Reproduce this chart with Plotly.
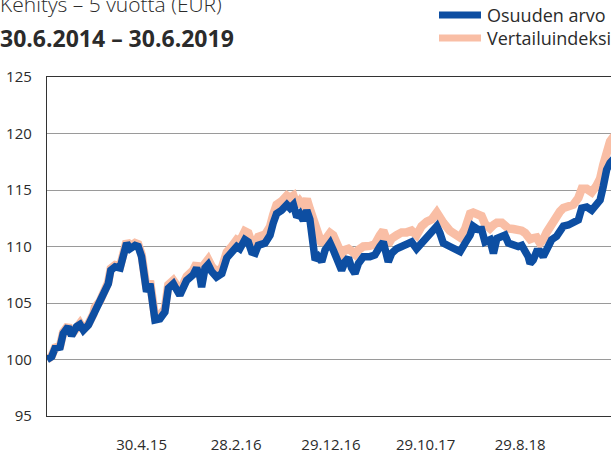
import plotly.graph_objects as go

dates = [
    "2014-06-30", "2014-07-15", "2014-07-26", "2014-08-11", "2014-08-21", "2014-09-06",
    "2014-09-17", "2014-10-03", "2014-10-14", "2014-10-25", "2014-11-10", "2014-11-26",
    "2014-12-01", "2014-12-17", "2015-01-02", "2015-01-13", "2015-01-21", "2015-02-04",
    "2015-02-20", "2015-03-02", "2015-03-13", "2015-03-24", "2015-04-09", "2015-04-19",
    "2015-04-30", "2015-05-11", "2015-05-16", "2015-05-27", "2015-06-07", "2015-06-12",
    "2015-06-28", "2015-07-14", "2015-07-25", "2015-08-10", "2015-08-15", "2015-08-31",
    "2015-09-22", "2015-10-13", "2015-10-24", "2015-11-04", "2015-11-09", "2015-11-20",
    "2015-11-30", "2015-12-11", "2015-12-27", "2016-01-13", "2016-01-29", "2016-02-14",
    "2016-03-01", "2016-03-11", "2016-03-27", "2016-04-07", "2016-04-18", "2016-04-29",
    "2016-05-09", "2016-05-31", "2016-06-16", "2016-06-26", "2016-07-07", "2016-07-23",
    "2016-08-09", "2016-08-19", "2016-08-30", "2016-09-10", "2016-09-20", "2016-10-01",
    "2016-10-12", "2016-10-22", "2016-11-02", "2016-11-08", "2016-11-18", "2016-11-29",
    "2016-12-10", "2016-12-26", "2017-01-05", "2017-01-21", "2017-02-01", "2017-02-12",
    "2017-02-23", "2017-03-05", "2017-03-16", "2017-03-27", "2017-04-12", "2017-05-03",
    "2017-05-19", "2017-06-04", "2017-06-15", "2017-07-01", "2017-07-12", "2017-07-28",
    "2017-08-13", "2017-08-29", "2017-09-14", "2017-09-30", "2017-10-16", "2017-11-02",
    "2017-11-18", "2017-12-04", "2017-12-14", "2017-12-25", "2018-01-15", "2018-02-06",
    "2018-02-17", "2018-03-05", "2018-03-21", "2018-03-31", "2018-04-16", "2018-04-27",
    "2018-05-08", "2018-05-24", "2018-06-04", "2018-06-15", "2018-07-01", "2018-07-11",
    "2018-07-22", "2018-08-07", "2018-08-23", "2018-09-03", "2018-09-14", "2018-09-24",
    "2018-09-30", "2018-10-10", "2018-10-21", "2018-11-01", "2018-11-11", "2018-11-22",
    "2018-12-08", "2018-12-24", "2019-01-04", "2019-01-15", "2019-01-31", "2019-02-16",
    "2019-03-04", "2019-03-15", "2019-03-31", "2019-04-16", "2019-05-02", "2019-05-13",
    "2019-05-23", "2019-06-03", "2019-06-14", "2019-06-30",
]

osuuden_arvo = [
    100.0, 100.25, 101.0, 101.1, 102.3, 102.9,
    102.1, 102.9, 103.1, 102.6, 103.05, 103.9,
    104.5, 105.0, 105.9, 106.7, 107.9, 108.2,
    108.1, 109.1, 110.3, 109.8, 110.1, 110.0,
    109.1, 107.0, 106.0, 106.7, 104.4, 103.5,
    103.6, 104.2, 106.3, 106.7, 106.45, 105.7,
    107.0, 107.5, 108.1, 107.3, 106.4, 108.1,
    108.4, 107.8, 107.3, 107.6, 109.0, 109.4,
    110.0, 109.8, 110.6, 110.4, 109.5, 109.4,
    110.1, 110.3, 111.0, 112.05, 112.9, 113.2,
    113.7, 113.4, 113.7, 112.6, 112.9, 112.3,
    113.2, 112.4, 110.6, 108.8, 109.1, 108.65,
    109.7, 110.3, 109.7, 108.65, 107.9, 108.65,
    109.0, 108.1, 107.6, 108.5, 109.1, 109.1,
    109.25, 110.0, 110.4, 108.65, 109.4, 109.8,
    110.0, 110.3, 110.4, 109.8, 110.3, 110.9,
    111.2, 111.8, 111.2, 110.3, 110.0, 109.7,
    109.55, 110.3, 111.0, 111.8, 111.5, 111.5,
    110.4, 110.6, 109.4, 110.7, 110.9, 111.0,
    110.3, 110.1, 110.0, 110.1, 109.7, 109.1,
    108.5, 108.8, 109.55, 109.55, 109.1, 109.8,
    110.6, 110.9, 111.3, 111.8, 111.9, 112.2,
    112.35, 113.4, 113.5, 113.2, 113.7, 114.1,
    115.3, 116.8, 117.4, 117.9,
]

vertailuindeksi = [
    100.0, 100.3, 101.05, 101.2, 102.4, 103.0,
    102.2, 103.0, 103.2, 102.7, 103.15, 104.0,
    104.6, 105.15, 106.05, 106.85, 108.05, 108.35,
    108.25, 109.25, 110.45, 110.0, 110.3, 110.2,
    109.3, 107.2, 106.25, 106.95, 104.7, 103.8,
    103.9, 104.5, 106.6, 107.0, 106.8, 106.0,
    107.35, 107.9, 108.5, 107.7, 106.9, 108.5,
    108.85, 108.25, 107.75, 108.1, 109.5, 110.0,
    110.6, 110.45, 111.35, 111.2, 110.3, 110.2,
    110.85, 111.05, 111.75, 112.8, 113.7, 114.0,
    114.5, 114.3, 114.5, 113.6, 114.0, 113.6,
    114.2, 113.3, 112.3, 111.9, 110.9, 110.2,
    110.6, 111.2, 111.0, 110.1, 109.3, 109.7,
    109.8, 109.6, 109.3, 109.7, 110.0, 110.05,
    110.2, 111.0, 111.4, 110.2, 110.7, 111.0,
    111.25, 111.25, 111.4, 111.0, 111.8, 112.2,
    112.4, 113.0, 112.7, 112.1, 111.4, 111.05,
    110.8, 111.55, 112.9, 113.0, 112.8, 112.7,
    112.0, 111.6, 111.9, 112.1, 112.1, 111.8,
    111.6, 111.55, 111.55, 111.4, 111.2, 110.7,
    110.65, 110.75, 110.8, 110.3, 110.6, 111.25,
    112.0, 112.6, 113.1, 113.4, 113.6, 113.7,
    114.3, 115.1, 115.1, 114.8, 115.4, 116.0,
    117.2, 118.6, 119.3, 119.9,
]

tick_dates = ["2015-04-30", "2016-02-28", "2016-12-29", "2017-10-29", "2018-08-29"]
tick_labels = ["30.4.15", "28.2.16", "29.12.16", "29.10.17", "29.8.18"]
y_ticks = [95, 100, 105, 110, 115, 120, 125]

title_text = "Kehitys – 5 vuotta (EUR)"
subtitle_text = "30.6.2014 – 30.6.2019"
series_names = ["Osuuden arvo", "Vertailuindeksi"]

BLUE = "#0d4ea2"
PINK = "#f9bea5"
FONT = "Open Sans"
TXT = "#2b2b2b"

fig = go.Figure()
fig.add_trace(go.Scatter(x=dates, y=vertailuindeksi, mode="lines", name=series_names[1],
                         line=dict(color=PINK, width=8.5), showlegend=False))
fig.add_trace(go.Scatter(x=dates, y=osuuden_arvo, mode="lines", name=series_names[0],
                         line=dict(color=BLUE, width=7.5), showlegend=False))

W, H = 611, 455
L, R, T, B = 47, 611, 77, 416
pw, ph = R - L, B - T

def px(x):
    return (x - L) / pw

def py(y):
    return (B - y) / ph

fig.add_annotation(text=title_text, x=px(-2), y=py(4.5), xref="paper", yref="paper",
                   xanchor="left", yanchor="middle", showarrow=False,
                   font=dict(family=FONT, size=21, color=TXT, weight=300))
fig.add_annotation(text="<b>" + subtitle_text + "</b>", x=px(-2), y=py(37.5), xref="paper", yref="paper",
                   xanchor="left", yanchor="middle", showarrow=False,
                   font=dict(family=FONT, size=23, color=TXT))

for name, color, yy in [(series_names[0], BLUE, 15), (series_names[1], PINK, 38)]:
    fig.add_shape(type="line", xref="paper", yref="paper", x0=px(439), x1=px(481),
                  y0=py(yy), y1=py(yy), line=dict(color=color, width=7))
    fig.add_annotation(text=name, x=px(485), y=py(yy), xref="paper", yref="paper",
                       xanchor="left", yanchor="middle", showarrow=False,
                       font=dict(family=FONT, size=18, color=TXT))

fig.update_layout(
    width=W, height=H,
    margin=dict(l=L, r=W - R, t=T, b=H - B, pad=0),
    paper_bgcolor="white", plot_bgcolor="white",
    font=dict(family=FONT, size=15, color=TXT),
)
fig.update_xaxes(
    type="date", range=["2014-06-30", "2019-06-17"],
    tickvals=tick_dates, ticktext=tick_labels,
    ticks="outside", ticklen=15, tickcolor="rgba(0,0,0,0)",
    showgrid=False, showline=True, linecolor="#333333", linewidth=1.3,
    mirror=True, zeroline=False, tickfont=dict(size=15, color=TXT),
)
fig.update_yaxes(
    range=[95, 125], tickvals=y_ticks,
    ticks="outside", ticklen=11, tickcolor="rgba(0,0,0,0)",
    showgrid=True, gridcolor="#9a9a9a", gridwidth=1,
    showline=True, linecolor="#333333", linewidth=1.3, mirror=True,
    zeroline=False, tickfont=dict(size=15, color=TXT),
)

fig.write_html("out.html", config={"displayModeBar": False},
               post_script="document.body.style.margin='0';document.body.style.overflow='hidden';")
